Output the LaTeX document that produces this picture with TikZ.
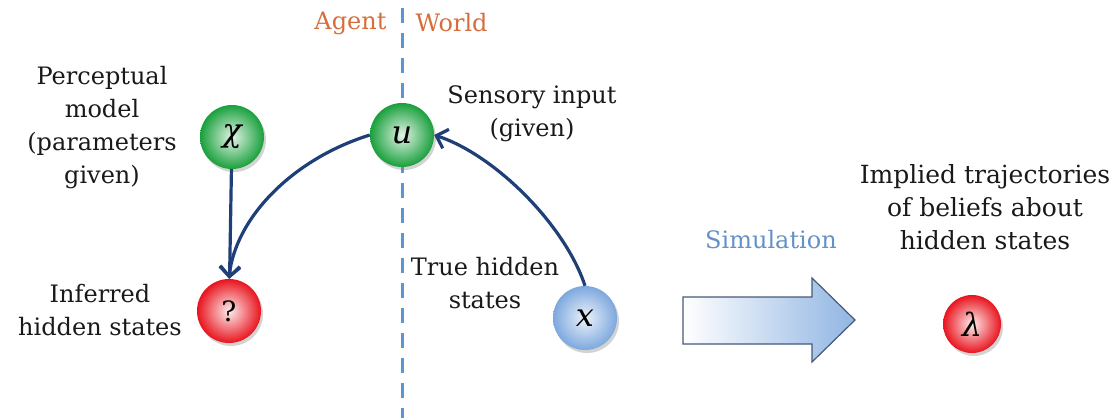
\documentclass[tikz,border=0pt]{standalone}
\usepackage{fontspec}
\setmainfont{DejaVu Serif}
\usetikzlibrary{arrows.meta,shadows}
\definecolor{dblue}{RGB}{31,63,120}
\definecolor{dashcol}{RGB}{91,150,210}
\definecolor{orng}{RGB}{214,110,60}
\definecolor{simb}{RGB}{100,145,200}
\definecolor{gr}{RGB}{25,160,60}
\definecolor{rd}{RGB}{232,20,30}
\definecolor{bl}{RGB}{125,168,222}
\newcommand{\ballsym}[1]{{\fontsize{32}{32}\selectfont\itshape #1}}
\tikzset{
  lbl/.style={font=\fontsize{24}{33}\selectfont, align=center, text=black!90},
  ball/.style={circle, minimum size=64pt, inner sep=0pt,
     drop shadow={shadow xshift=2pt, shadow yshift=-3pt, opacity=0.35}},
  gball/.style={ball, shading=radial, inner color=gr!12!white, outer color=gr},
  rball/.style={ball, shading=radial, inner color=rd!8!white, outer color=rd},
  bball/.style={ball, shading=radial, inner color=bl!15!white, outer color=bl},
  conn/.style={draw=dblue, line width=3.2pt, -{Straight Barb[length=10pt,width=20pt,line width=3.2pt]}},
}
\begin{document}
\begin{tikzpicture}[x=1pt,y=-1pt]
\useasboundingbox (0,0) rectangle (1118,418);
% divider
\coordinate (dtop) at (402,8);
\coordinate (dbot) at (402,418);
\draw[draw=dashcol, line width=3pt, dash pattern=on 15pt off 10pt] (dtop) -- (dbot);
\node[font=\fontsize{24}{26}\selectfont, text=orng, anchor=east] (agent) at (390,23) {Agent};
\node[font=\fontsize{24}{26}\selectfont, text=orng, anchor=west] (world) at (412,23) {World};
% balls
\node[gball] (chi) at (232,137) {\ballsym{χ}};
\node[gball] (u) at (402,135) {\ballsym{u}};
\node[rball] (q) at (229,311) {{\fontsize{28}{28}\selectfont ?}};
\node[bball] (x) at (585,318) {\ballsym{x}};
\node[rball, minimum size=58pt] (lam) at (972,324) {\ballsym{λ}};
% labels
\node[lbl] (pm) at (102,128) {Perceptual\\model\\(parameters\\given)};
\node[lbl] (ih) at (100,310) {Inferred\\hidden states};
\node[lbl] (si) at (532,114) {Sensory input\\(given)};
\node[lbl] (th) at (485,283) {True hidden\\states};
\node[lbl, font=\fontsize{25}{33}\selectfont] (it) at (985,207) {Implied trajectories\\of beliefs about\\hidden states};
\node[font=\fontsize{24}{26}\selectfont, text=simb] (sim) at (771,240) {Simulation};
% connectors
\draw[conn] (chi) -- (q);
\draw[conn] (u.west) .. controls (290,160) and (235,220) .. (q.north);
\draw[conn] (x.north) .. controls (565,225) and (495,155) .. (u.east);
% big arrow
\coordinate (a1) at (683,297);
\coordinate (a2) at (812,297);
\coordinate (a3) at (812,278);
\coordinate (a4) at (855,320);
\coordinate (a5) at (812,362);
\coordinate (a6) at (812,344);
\coordinate (a7) at (683,344);
\draw[draw=dblue!60!gray, line width=1.2pt, left color=white, right color=bl!85]
  (a1) -- (a2) -- (a3) -- (a4) -- (a5) -- (a6) -- (a7) -- cycle;
\end{tikzpicture}
\end{document}
